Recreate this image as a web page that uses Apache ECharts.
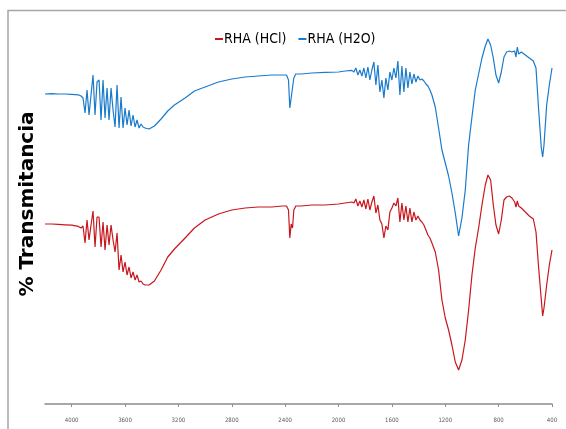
<!DOCTYPE html>
<html>
<head>
<meta charset="utf-8">
<script src="https://cdn.jsdelivr.net/npm/echarts@6/dist/echarts.min.js"></script>
<style>
  html, body { margin: 0; padding: 0; background: #fff; }
  #chart { width: 566px; height: 429px; }
</style>
</head>
<body>
<div id="chart"></div>
<script>
// FTIR spectra, wavenumber in cm-1
const wavenumber = [
  4200, 4150, 4100, 4050, 4000, 3950,
  3930, 3915, 3900, 3885, 3870, 3855, 3840, 3825, 3810, 3795, 3780, 3765, 3750, 3735,
  3720, 3705, 3690, 3675, 3660, 3645, 3630, 3615, 3600, 3585, 3570, 3555, 3540, 3525,
  3510, 3495, 3480, 3465, 3450,
  3420, 3380, 3330, 3280, 3230, 3150, 3080, 3000, 2900, 2800, 2700, 2600, 2500, 2420,
  2390, 2375, 2365, 2355, 2345, 2335, 2320, 2280, 2200, 2100, 2000, 1950, 1900,
  1885, 1870, 1855, 1840, 1825, 1810, 1795, 1780, 1765, 1750, 1735, 1720, 1705, 1690,
  1675, 1660, 1645, 1630, 1615, 1600, 1585, 1570, 1555, 1540, 1525, 1510, 1495, 1480,
  1465, 1450, 1435, 1420, 1405, 1390, 1375, 1360, 1345, 1330, 1315,
  1300, 1275, 1250, 1225, 1200, 1175, 1150, 1125, 1100, 1075, 1050, 1025, 1000, 975,
  950, 925, 900, 880, 860, 840, 820, 800, 780, 760, 740, 720, 700, 680, 670, 660, 650,
  630, 600, 570, 540, 520, 500, 480, 470, 460, 440, 420, 400
];

// % transmittance, RHA washed with HCl (red)
const rhaHCl = [
  45.0, 45.0, 44.9, 44.8, 44.7, 44.4,
  44.0, 44.5, 40.25, 46.0, 41.0, 44.75, 48.25, 39.25, 46.75, 46.75, 39.25, 45.5, 38.5, 44.75,
  39.75, 44.75, 41.0, 38.0, 42.75, 33.5, 37.25, 33.0, 35.5, 32.25, 34.25, 31.5, 33.0, 31.0,
  32.25, 30.5, 30.75, 30.0, 29.75,
  29.75, 30.75, 33.5, 36.75, 38.75, 41.5, 44.0, 46.0, 47.5, 48.5, 49.0, 49.25, 49.25, 49.5,
  49.5, 48.5, 41.5, 45.0, 44.0, 48.5, 49.5, 49.5, 49.75, 49.75, 50.0, 50.25, 50.5,
  50.25, 51.25, 49.5, 50.75, 49.25, 51.0, 48.75, 51.25, 48.5, 50.5, 52.0, 47.75, 49.75, 46.0,
  45.0, 41.5, 44.5, 43.5, 48.0, 49.0, 50.25, 49.5, 51.5, 45.5, 50.25, 46.0, 49.5, 45.5,
  49.0, 45.5, 48.0, 46.0, 47.0, 46.0, 45.5, 44.75, 43.5, 42.25, 41.5,
  40.25, 38.0, 33.5, 26.0, 21.5, 18.5, 14.75, 10.5, 8.5, 11.0, 16.0, 23.5, 32.25, 39.0,
  44.0, 49.75, 54.75, 57.25, 56.0, 49.75, 44.75, 42.5, 46.0, 51.0, 51.75, 52.0, 51.5, 50.5, 49.25, 50.75, 49.5,
  49.0, 48.0, 47.0, 46.25, 43.0, 34.0, 26.0, 22.0, 24.0, 29.75, 34.75, 38.5
];

// % transmittance, RHA washed with water (blue)
const rhaH2O = [
  77.5, 77.6, 77.5, 77.5, 77.4, 77.3,
  77.0, 76.5, 72.75, 78.5, 72.25, 77.25, 82.25, 72.25, 80.5, 81.0, 71.0, 81.0, 71.5, 79.0,
  71.0, 79.0, 73.5, 69.25, 79.75, 69.0, 76.75, 69.0, 74.0, 69.75, 73.5, 69.5, 72.25, 69.25,
  71.0, 69.0, 70.0, 69.25, 69.0,
  68.75, 69.5, 71.25, 73.25, 74.75, 76.5, 78.25, 79.25, 80.5, 81.25, 81.75, 82.0, 82.25, 82.25,
  82.25, 81.0, 74.0, 76.5, 77.0, 81.5, 82.5, 82.5, 82.75, 82.9, 83.0, 83.25, 83.4,
  83.0, 84.0, 82.25, 83.5, 82.0, 84.0, 81.5, 84.25, 81.0, 83.5, 85.5, 79.75, 84.75, 78.0,
  81.0, 76.5, 81.5, 78.5, 83.0, 81.0, 84.0, 81.5, 85.75, 77.25, 84.5, 78.0, 84.0, 79.0,
  83.0, 80.0, 82.5, 80.5, 82.0, 81.0, 81.25, 80.75, 80.0, 79.5, 78.5,
  77.25, 74.25, 69.0, 63.5, 60.25, 57.0, 52.75, 47.75, 42.0, 46.5, 53.5, 64.75, 71.75, 78.5,
  82.5, 86.5, 89.5, 91.25, 89.75, 86.5, 82.25, 80.25, 83.0, 86.75, 88.0, 88.25, 88.0, 88.25, 86.75, 89.25, 87.5,
  88.0, 87.25, 86.5, 85.75, 84.0, 73.5, 64.0, 61.75, 64.75, 74.75, 79.75, 84.0
];

const tickValues = [4000, 3600, 3200, 2800, 2400, 2000, 1600, 1200, 800, 400];

const pairs = (ys) => wavenumber.map((w, i) => [w, ys[i]]);

const chart = echarts.init(document.getElementById('chart'), null, { renderer: 'canvas' });
chart.setOption({
  animation: false,
  backgroundColor: '#fff',
  legend: {
    top: 27,
    left: 210,
    itemWidth: 8,
    itemHeight: 2,
    itemGap: 12,
    icon: 'rect',
    textStyle: {
      fontFamily: "'Liberation Sans Narrow', 'DejaVu Sans Condensed', sans-serif",
      fontSize: 14,
      color: '#000',
      padding: [0, 0, 0, -4]
    },
    data: ['RHA (HCl)', 'RHA (H2O)']
  },
  grid: { left: 45, right: 14, top: 4, bottom: 25 },
  graphic: [{
    type: 'polyline',
    silent: true,
    shape: { points: [[8, 429], [8, 10.5], [566, 10.5]] },
    style: { stroke: '#a6a6a6', lineWidth: 1.5, fill: null }
  }],
  xAxis: {
    type: 'value',
    inverse: true,
    min: 400,
    max: 4200,
    interval: 400,
    splitLine: { show: false },
    axisLine: { lineStyle: { color: '#8c8c8c', width: 1.5 } },
    axisTick: { length: 3, customValues: tickValues, lineStyle: { color: '#8c8c8c' } },
    axisLabel: {
      customValues: tickValues,
      formatter: (v) => String(v),
      margin: 13,
      fontSize: 6,
      color: '#595959',
      fontFamily: "'Liberation Sans Narrow', 'DejaVu Sans Condensed', sans-serif"
    }
  },
  yAxis: {
    type: 'value',
    min: 0,
    max: 100,
    name: '% Transmitancia',
    nameLocation: 'middle',
    nameRotate: 90,
    nameGap: 7,
    nameTextStyle: {
      fontFamily: "'DejaVu Sans', sans-serif",
      fontWeight: 'bold',
      fontSize: 20,
      color: '#000'
    },
    axisLine: { show: false },
    axisTick: { show: false },
    axisLabel: { show: false },
    splitLine: { show: false }
  },
  series: [
    {
      name: 'RHA (HCl)',
      type: 'line',
      data: pairs(rhaHCl),
      showSymbol: false,
      color: '#c8161d',
      lineStyle: { width: 1.2 }
    },
    {
      name: 'RHA (H2O)',
      type: 'line',
      data: pairs(rhaH2O),
      showSymbol: false,
      color: '#1a7bcc',
      lineStyle: { width: 1.2 }
    }
  ]
});
</script>
</body>
</html>
